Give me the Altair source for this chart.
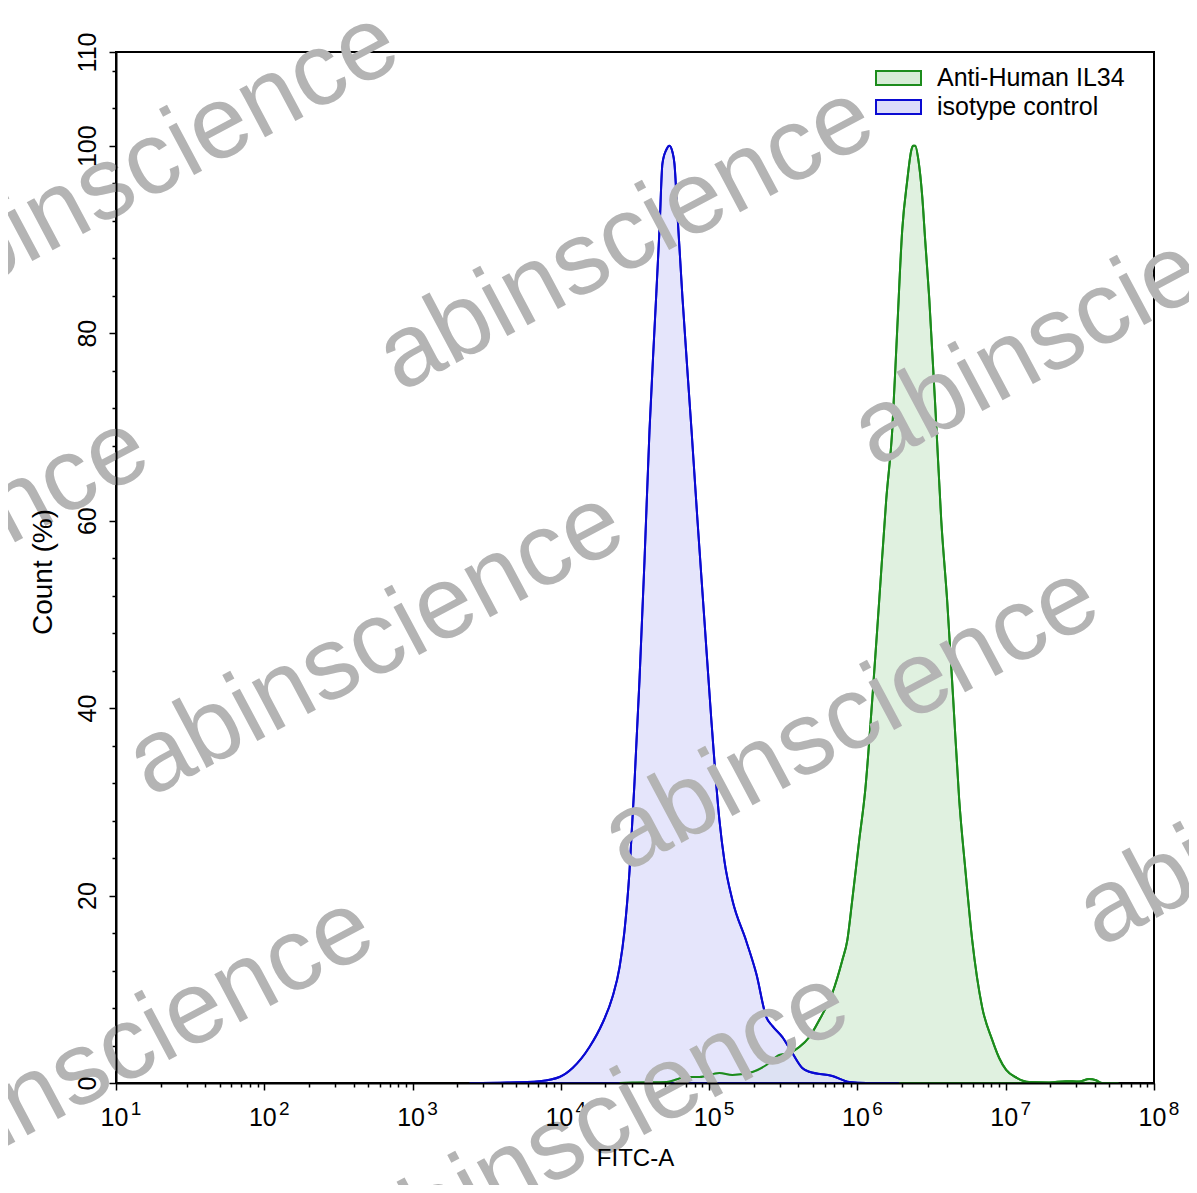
import altair as alt
import pandas as pd

FONT = "Liberation Sans, Arial, Helvetica, sans-serif"

# ---- data (x given as log10 of FITC-A) ----
series_names = ["Anti-Human IL34", "isotype control"]
line_colors = ["#1c8c1c", "#0a0ad2"]
fill_colors = ["#d6ecd6", "#dcdcfa"]

green_log = [4.396, 4.483, 4.712, 4.847, 4.935, 5.069, 5.157, 5.292, 5.386, 5.473,
             5.541, 5.608, 5.676, 5.743, 5.831, 5.898, 5.932, 5.965, 6.012, 6.053,
             6.100, 6.147, 6.194, 6.235, 6.268, 6.302, 6.336, 6.363, 6.376, 6.390,
             6.410, 6.437, 6.457, 6.484, 6.531, 6.565, 6.605, 6.646, 6.686, 6.727,
             6.774, 6.841, 6.909, 6.956, 7.003, 7.077, 7.158, 7.293, 7.407, 7.495,
             7.562, 7.609, 7.650, 7.76]
green_cnt = [0, 0.05, 0.1, 0.64, 0.64, 1.07, 0.85, 1.17, 1.92, 2.99,
             3.2, 3.84, 4.91, 6.72, 9.6, 13.1, 15.25, 19.5, 25.9, 31.3,
             40.9, 51.5, 62.2, 69.7, 80.3, 91.0, 96.3, 99.5, 100, 100,
             98.6, 94.6, 89.9, 83.8, 70.4, 60.1, 51.5, 40.9, 30.3, 22.9,
             15.25, 8.1, 4.6, 2.67, 1.39, 0.53, 0.1, 0.05, 0.2, 0.15,
             0.43, 0.3, 0, 0]

blue_log = [3.385, 3.641, 3.857, 3.991, 4.079, 4.193, 4.281, 4.348, 4.396, 4.429,
            4.463, 4.497, 4.530, 4.564, 4.598, 4.631, 4.665, 4.685, 4.712, 4.732,
            4.753, 4.766, 4.786, 4.820, 4.881, 4.921, 4.968, 5.015, 5.069, 5.103,
            5.157, 5.251, 5.319, 5.386, 5.426, 5.494, 5.561, 5.628, 5.676, 5.831,
            5.945, 6.060, 6.28]
blue_cnt = [0, 0.05, 0.2, 0.64, 1.6, 3.84, 6.4, 9.17, 12.37, 16.2,
            22.6, 32.2, 42.9, 55.7, 69.7, 80.3, 91.0, 98.1, 99.6, 100,
            99.3, 98.1, 92.8, 83.8, 69.7, 60.1, 49.4, 38.7, 28.1, 23.7,
            19.5, 15.1, 11.6, 7.0, 6.1, 4.9, 3.2, 1.6, 1.2, 0.75,
            0.1, 0, 0]

y_major = [0, 20, 40, 60, 80, 100, 110]
y_minor = [v for v in range(4, 110, 4) if v % 20 != 0]
x_exps = [1, 2, 3, 4, 5, 6, 7, 8]
x_minor = [m * 10.0 ** e for e in range(1, 8) for m in range(2, 10)]

W, H = 1038, 1031

rows = []
for lg, c in zip(green_log, green_cnt):
    rows.append({"series": series_names[0], "fitc": 10 ** lg, "count": c})
for lg, c in zip(blue_log, blue_cnt):
    rows.append({"series": series_names[1], "fitc": 10 ** lg, "count": c})
df = pd.DataFrame(rows)

xscale = alt.Scale(type="log", domain=[10, 1e8], nice=False)
yscale = alt.Scale(domain=[0, 110], nice=False, zero=True)

rect_path = "M-1.5,-0.467L1.5,-0.467L1.5,0.467L-1.5,0.467Z"
legend = alt.Legend(title=None, orient="none", legendX=766.5, legendY=10,
                    symbolType=rect_path, symbolSize=900, symbolStrokeWidth=2,
                    labelFontSize=25, labelFont=FONT, labelColor="black",
                    labelLimit=500, labelOffset=22.5, rowPadding=0, padding=0)

x_axis = alt.Axis(values=[10.0 ** e for e in x_exps], labelExpr="'10'", title="FITC-A",
                  tickSize=7, tickWidth=1.5, tickColor="black", domainColor="black",
                  domainWidth=2, labelFontSize=25, labelFont=FONT, labelColor="black",
                  labelPadding=15, labelOffset=-2, labelFlush=False, labelOverlap=False,
                  titleFontSize=24, titleFont=FONT, titleFontWeight="normal",
                  titleColor="black", titleX=W / 2, titleY=63, titleBaseline="top",
                  grid=False, zindex=1)
y_axis = alt.Axis(values=y_major, title="Count (%)", tickSize=7, tickWidth=1.5,
                  tickColor="black", domainColor="black", domainWidth=2,
                  labelFontSize=25, labelFont=FONT, labelColor="black",
                  labelAngle=270, labelAlign="center", labelBaseline="bottom",
                  labelPadding=9, labelFlush=False, labelOverlap=False,
                  titleFontSize=28, titleFont=FONT, titleFontWeight="normal",
                  titleColor="black", titleAngle=270, titleX=-73, titleY=H / 2 + 4,
                  titleAlign="center", titleBaseline="middle", grid=False, zindex=1)

area = alt.Chart(df).mark_area(strokeWidth=2, fillOpacity=0.75, interpolate="monotone").encode(
    x=alt.X("fitc:Q", scale=xscale, axis=x_axis),
    y=alt.Y("count:Q", scale=yscale, axis=y_axis, stack=None),
    fill=alt.Fill("series:N", scale=alt.Scale(domain=series_names, range=fill_colors), legend=legend),
    stroke=alt.Stroke("series:N", scale=alt.Scale(domain=series_names, range=line_colors), legend=legend),
)

lines = alt.Chart(df).mark_line(strokeWidth=2, interpolate="monotone").encode(
    x=alt.X("fitc:Q", scale=xscale, axis=None),
    y=alt.Y("count:Q", scale=yscale, axis=None),
    stroke=alt.Stroke("series:N", scale=alt.Scale(domain=series_names, range=line_colors), legend=None),
)

minor_df = pd.DataFrame({"mx": [10.0], "my": [0.0]})
minor = alt.Chart(minor_df).mark_point(opacity=0).encode(
    x=alt.X("mx:Q", scale=xscale,
            axis=alt.Axis(values=x_minor, labels=False, domain=False, tickSize=4,
                          tickWidth=1.5, tickColor="black", title=None, grid=False,
                          orient="bottom")),
    y=alt.Y("my:Q", scale=yscale,
            axis=alt.Axis(values=y_minor, labels=False, domain=False, tickSize=4,
                          tickWidth=1.5, tickColor="black", title=None, grid=False,
                          orient="left")),
)

exp_df = pd.DataFrame({"val": [10.0 ** e for e in x_exps], "txt": [str(e) for e in x_exps]})
exps = alt.Chart(exp_df).mark_text(align="center", baseline="top", dx=20, fontSize=19,
                                   font=FONT, color="black").encode(
    x=alt.X("val:Q", scale=xscale, axis=None),
    y=alt.value(H + 17),
    text="txt:N",
)

# watermark tiling (page pixels -> plot pixels)
origin = (150, 798)
va = (475, 75)
vb = (250, -405)
tiles = [(-1, 0), (0, 0), (1, 0), (2, 0), (-1, 1), (0, 1), (1, 1), (-2, 1),
         (-1, -1), (0, -1), (1, -1)]
wm_layers = []
for i, j in tiles:
    px = origin[0] + i * va[0] + j * vb[0]
    py = origin[1] + i * va[1] + j * vb[1]
    wm_layers.append(
        alt.Chart(alt.Data(values=[{"t": 1}])).mark_text(
            angle=332, align="left", baseline="alphabetic", fontSize=103,
            font=FONT, color="#b4b4b4").encode(
            x=alt.value(px - 116), y=alt.value(py - 52), text=alt.value("abinscience"))
    )

chart = alt.layer(area, lines, minor, exps, *wm_layers).resolve_axis(
    x="independent", y="independent"
).properties(
    width=W, height=H,
    autosize=alt.AutoSizeParams(type="none"),
    padding={"left": 108, "top": 44, "right": 35, "bottom": 102},
).configure_view(stroke="black", strokeWidth=2)

chart.save("out.html", embed_options={"renderer": "svg", "actions": False})
